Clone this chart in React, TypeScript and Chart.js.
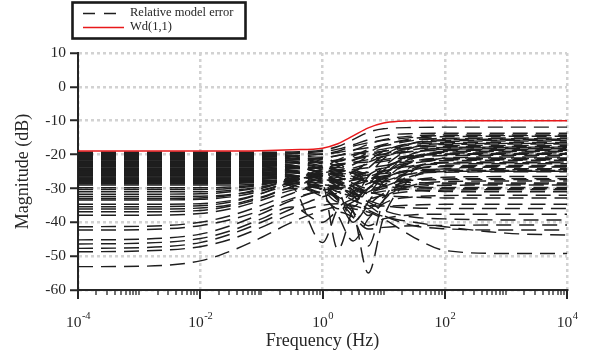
import React, { useEffect, useRef } from "react";
import { Chart, registerables } from "chart.js";

Chart.register(...registerables);

// Frequency grid (Hz) shared by every "Relative model error" curve
const freqHz = [1e-4, 1e-3, 1e-2, 0.0316, 0.1, 0.316, 1, 1.78, 3.16, 5.62, 10, 31.6, 100, 1000, 10000];

// Weighting function Wd(1,1)
const wdFreqHz = [1e-4, 1e-2, 0.1, 0.316, 1, 1.78, 3.16, 5.62, 10, 17.8, 31.6, 1e4];
const wdMagDb = [-18.95, -18.95, -18.85, -18.6, -18.1, -16.8, -14.5, -12.1, -10.7, -10.15, -10.0, -10.0];

// Relative model error curves starting in the upper low-frequency band (dB)
const upperBandCurves = [
  [-19.3, -19.3, -19.3, -19.3, -19.3, -19.2, -18.7, -17.6, -15.6, -13.4, -12.4, -12.0, -11.9, -11.9, -11.9],
  [-19.6, -19.6, -19.6, -19.6, -19.6, -19.5, -19.1, -18.4, -17.1, -15.6, -14.4, -13.8, -13.7, -13.7, -13.7],
  [-19.9, -19.9, -19.9, -19.9, -19.9, -20.1, -20.8, -20.3, -18.8, -17.0, -15.6, -14.5, -14.2, -14.2, -14.2],
  [-20.2, -20.2, -20.2, -20.2, -20.2, -20.6, -22.0, -23.2, -21.8, -19.4, -17.3, -15.2, -14.7, -14.6, -14.6],
  [-20.5, -20.5, -20.5, -20.5, -20.5, -20.4, -19.9, -19.4, -18.6, -18.0, -17.4, -15.8, -15.2, -15.1, -15.1],
  [-20.9, -20.9, -20.9, -20.9, -20.9, -21.3, -22.8, -25.0, -27.2, -24.0, -20.2, -16.6, -15.6, -15.5, -15.5],
  [-21.2, -21.2, -21.2, -21.2, -21.2, -21.3, -21.0, -20.3, -19.6, -19.1, -18.4, -16.6, -16.1, -16.0, -16.0],
  [-21.5, -21.5, -21.5, -21.5, -21.5, -21.9, -23.4, -24.6, -23.0, -20.6, -18.9, -17.0, -16.5, -16.4, -16.4],
  [-21.9, -21.9, -21.9, -21.9, -21.9, -22.4, -24.6, -28.5, -32.0, -26.5, -21.2, -17.8, -17.0, -16.9, -16.9],
  [-22.3, -22.3, -22.3, -22.3, -22.3, -22.5, -22.2, -21.6, -21.0, -20.4, -19.8, -17.9, -17.4, -17.3, -17.3],
  [-22.6, -22.6, -22.6, -22.6, -22.6, -23.1, -25.8, -27.6, -25.2, -22.3, -20.6, -18.5, -17.9, -17.8, -17.8],
  [-23.0, -23.0, -23.0, -23.0, -23.0, -23.5, -25.2, -26.2, -26.8, -27.8, -24.6, -19.6, -18.4, -18.3, -18.3],
  [-23.3, -23.3, -23.3, -23.3, -23.3, -23.7, -24.9, -23.6, -21.6, -20.6, -20.0, -19.0, -18.8, -18.7, -18.7],
  [-23.7, -23.7, -23.7, -23.7, -23.7, -24.6, -28.5, -48.0, -36.0, -29.0, -24.5, -20.5, -19.3, -19.2, -19.2],
  [-24.0, -24.0, -24.0, -24.0, -24.0, -24.2, -24.0, -23.1, -22.5, -22.2, -21.5, -20.2, -19.8, -19.7, -19.7],
  [-24.4, -24.4, -24.4, -24.4, -24.4, -25.1, -27.6, -31.0, -29.2, -26.1, -23.6, -21.0, -20.3, -20.2, -20.2],
  [-24.8, -24.8, -24.8, -24.8, -24.8, -25.4, -26.6, -28.2, -31.8, -38.0, -33.5, -24.5, -21.0, -20.7, -20.7],
  [-25.1, -25.1, -25.1, -25.1, -25.1, -25.4, -25.6, -25.1, -24.4, -23.9, -23.3, -21.8, -21.3, -21.2, -21.2],
  [-25.5, -25.5, -25.5, -25.5, -25.5, -26.1, -28.2, -30.2, -28.6, -26.6, -25.0, -22.5, -21.8, -21.7, -21.7],
  [-25.9, -25.9, -25.9, -25.9, -25.9, -26.6, -29.6, -33.5, -38.5, -47.0, -33.5, -24.0, -22.3, -22.2, -22.2],
  [-26.3, -26.3, -26.3, -26.3, -26.3, -26.5, -26.2, -25.8, -25.5, -25.3, -24.8, -23.2, -22.8, -22.7, -22.7],
  [-26.6, -26.6, -26.6, -26.6, -26.6, -27.6, -31.2, -29.2, -27.6, -27.0, -26.5, -24.2, -23.3, -23.2, -23.2],
  [-27.0, -27.0, -27.0, -27.0, -27.0, -27.8, -30.4, -32.5, -36.5, -55.0, -38.5, -26.5, -24.2, -23.7, -23.7],
  [-27.4, -27.4, -27.4, -27.4, -27.4, -28.0, -28.4, -27.5, -26.8, -26.0, -25.6, -24.6, -24.3, -24.2, -24.2],
  [-27.8, -27.8, -27.8, -27.8, -27.8, -29.5, -46.0, -36.0, -33.0, -30.0, -28.0, -25.5, -24.8, -24.7, -24.7],
  [-28.2, -28.2, -28.2, -28.2, -28.2, -28.6, -29.2, -29.8, -29.0, -27.8, -26.8, -25.6, -25.2, -25.1, -25.1],
];

// Further curves of the upper band that cross the 1-30 Hz region (dB)
const crossingCurves = [
  [-19.4, -19.4, -19.4, -19.4, -19.4, -19.6, -19.8, -19.0, -17.5, -16.5, -15.8, -14.9, -14.4, -14.4, -14.4],
  [-20.0, -20.0, -20.0, -20.0, -20.0, -20.5, -21.5, -22.0, -20.5, -18.5, -17.0, -15.6, -15.3, -15.3, -15.3],
  [-20.7, -20.7, -20.7, -20.7, -20.7, -21.0, -22.5, -24.5, -25.0, -22.0, -19.0, -16.5, -15.9, -15.8, -15.8],
  [-21.4, -21.4, -21.4, -21.4, -21.4, -21.6, -21.2, -22.5, -25.5, -27.5, -23.5, -17.8, -16.8, -16.7, -16.7],
  [-22.0, -22.0, -22.0, -22.0, -22.0, -22.2, -23.5, -21.5, -20.0, -19.5, -19.0, -17.8, -17.6, -17.6, -17.6],
  [-22.8, -22.8, -22.8, -22.8, -22.8, -23.2, -24.5, -26.5, -29.5, -31.0, -26.0, -19.5, -18.1, -18.0, -18.0],
  [-23.5, -23.5, -23.5, -23.5, -23.5, -23.8, -23.8, -22.8, -22.3, -21.5, -20.5, -19.0, -18.6, -18.5, -18.5],
  [-24.2, -24.2, -24.2, -24.2, -24.2, -24.8, -27.0, -29.5, -32.5, -30.0, -26.0, -20.8, -19.6, -19.5, -19.5],
  [-24.6, -24.6, -24.6, -24.6, -24.6, -25.0, -26.0, -25.5, -24.0, -22.8, -22.0, -20.5, -20.0, -19.9, -19.9],
  [-25.3, -25.3, -25.3, -25.3, -25.3, -26.0, -28.5, -32.5, -35.5, -30.0, -27.0, -22.0, -21.1, -21.0, -21.0],
  [-25.7, -25.7, -25.7, -25.7, -25.7, -26.2, -27.2, -27.5, -26.5, -25.0, -24.0, -22.2, -21.6, -21.5, -21.5],
  [-26.1, -26.1, -26.1, -26.1, -26.1, -27.0, -30.5, -34.0, -31.0, -28.5, -27.0, -23.5, -22.5, -22.4, -22.4],
  [-26.9, -26.9, -26.9, -26.9, -26.9, -27.2, -27.8, -28.5, -30.0, -31.5, -29.0, -24.5, -23.6, -23.5, -23.5],
  [-27.6, -27.6, -27.6, -27.6, -27.6, -28.3, -30.0, -29.0, -27.5, -26.8, -26.3, -24.8, -24.6, -24.5, -24.5],
  [-28.0, -28.0, -28.0, -28.0, -28.0, -29.0, -32.5, -36.0, -34.0, -31.0, -29.5, -26.2, -25.0, -24.9, -24.9],
  [-23.1, -23.1, -23.1, -23.1, -23.1, -23.6, -26.0, -30.0, -40.0, -34.0, -28.0, -21.0, -19.1, -19.0, -19.0],
  [-28.6, -28.6, -28.6, -28.5, -28.2, -27.0, -25.5, -26.0, -27.0, -28.0, -28.0, -27.6, -27.4, -27.4, -27.4],
  [-30.3, -30.3, -30.3, -30.0, -29.0, -27.0, -25.5, -26.5, -28.5, -30.0, -29.5, -28.8, -28.7, -28.7, -28.7],
  [-33.0, -33.0, -32.8, -32.0, -30.0, -27.5, -26.5, -28.0, -30.5, -31.5, -30.8, -30.2, -30.1, -30.1, -30.1],
];

// Relative model error curves starting in the lower low-frequency band (dB)
const lowerBandCurves = [
  [-29.0, -29.0, -29.0, -29.0, -28.6, -27.5, -26.5, -26.8, -28.5, -31.0, -30.0, -27.5, -26.7, -26.5, -26.5],
  [-29.8, -29.8, -29.8, -29.6, -28.8, -27.0, -24.5, -23.8, -24.5, -26.0, -27.0, -27.3, -27.2, -27.1, -27.1],
  [-31.0, -31.0, -31.0, -30.6, -29.5, -27.8, -26.5, -27.5, -30.5, -36.0, -32.5, -29.0, -28.0, -27.8, -27.8],
  [-31.7, -31.7, -31.6, -31.0, -29.6, -27.2, -25.0, -24.5, -25.0, -26.5, -27.5, -28.3, -28.4, -28.4, -28.4],
  [-32.4, -32.4, -32.3, -31.8, -30.5, -28.5, -29.5, -33.0, -40.0, -35.0, -31.5, -29.5, -29.1, -29.0, -29.0],
  [-33.4, -33.4, -33.2, -32.5, -30.8, -28.0, -26.0, -25.5, -26.5, -28.0, -29.0, -29.6, -29.7, -29.7, -29.7],
  [-34.7, -34.7, -34.5, -33.6, -31.5, -28.8, -27.5, -28.5, -31.0, -33.0, -32.0, -30.8, -30.5, -30.4, -30.4],
  [-35.4, -35.4, -35.1, -34.0, -31.5, -28.0, -25.5, -24.8, -25.5, -27.5, -29.0, -30.5, -30.9, -31.0, -31.0],
  [-36.1, -36.1, -35.8, -34.8, -32.5, -30.0, -32.0, -38.0, -45.5, -39.0, -34.5, -32.5, -32.1, -32.0, -32.0],
  [-36.9, -36.9, -36.5, -35.2, -32.8, -29.5, -27.5, -28.0, -29.5, -31.0, -32.0, -32.6, -32.8, -32.8, -32.8],
  [-37.9, -37.9, -37.4, -36.0, -33.5, -30.5, -29.5, -31.0, -33.5, -35.0, -35.2, -34.9, -34.7, -34.7, -34.7],
  [-41.3, -41.2, -40.0, -38.0, -35.0, -31.5, -29.0, -29.5, -31.5, -33.5, -35.0, -35.8, -35.9, -35.9, -35.9],
  [-42.3, -42.2, -41.0, -39.2, -36.5, -33.0, -31.0, -33.0, -37.0, -41.0, -39.0, -37.8, -37.6, -37.6, -37.6],
  [-45.2, -45.0, -43.5, -41.0, -37.5, -33.5, -30.5, -30.0, -31.5, -34.0, -36.5, -38.5, -39.0, -39.3, -39.3],
  [-46.4, -46.2, -44.8, -42.5, -39.0, -35.5, -40.0, -37.0, -38.5, -42.0, -41.5, -41.0, -40.9, -40.8, -40.8],
  [-47.7, -47.5, -46.0, -43.5, -40.0, -36.0, -32.5, -31.5, -32.5, -35.0, -38.0, -41.0, -41.9, -42.3, -42.3],
  [-48.7, -48.5, -47.2, -45.0, -41.5, -37.5, -35.0, -34.5, -35.0, -36.5, -38.3, -40.0, -41.3, -43.2, -43.8],
  [-53.1, -53.0, -51.4, -48.5, -44.5, -40.0, -36.5, -35.5, -36.0, -37.0, -39.0, -44.5, -48.3, -49.2, -49.2],
];

const yTicksDb = [10, 0, -10, -20, -30, -40, -50, -60];
const xLabelExponents = [-4, -2, 0, 2, 4];
const legendLabels = ["Relative model error", "Wd(1,1)"];

const FONT = "'Liberation Serif', 'Times New Roman', serif";
const TEXT = "#262626";
const ERR_DASH = [15, 8];
const RED = "#e8191b";
const GRID = "#d2d2d2";

const decorPlugin = {
  id: "decor",
  afterDraw(chart: any) {
    const ctx = chart.ctx as CanvasRenderingContext2D;
    const xs = chart.scales.x;
    const area = chart.chartArea;
    ctx.save();
    // x-axis ticks (major + minor)
    ctx.strokeStyle = TEXT;
    for (let e = -4; e <= 4; e++) {
      for (let m = 1; m <= 9; m++) {
        if (e === 4 && m > 1) break;
        const v = m * Math.pow(10, e);
        const px = Math.round(xs.getPixelForValue(v));
        const major = m === 1 && e % 2 === 0;
        ctx.lineWidth = major ? 2 : 1.3;
        ctx.beginPath();
        ctx.moveTo(px, area.bottom);
        ctx.lineTo(px, area.bottom + (major ? 9 : 5));
        ctx.stroke();
      }
    }
    // x tick labels 10^n
    ctx.fillStyle = TEXT;
    ctx.textBaseline = "alphabetic";
    ctx.textAlign = "left";
    for (const e of xLabelExponents) {
      const px = xs.getPixelForValue(Math.pow(10, e));
      ctx.font = `15.5px ${FONT}`;
      const wBase = ctx.measureText("10").width;
      ctx.font = `10.5px ${FONT}`;
      const expText = String(e);
      const wExp = ctx.measureText(expText).width;
      const start = px - (wBase + wExp) / 2;
      ctx.font = `15.5px ${FONT}`;
      ctx.fillText("10", start, area.bottom + 37);
      ctx.font = `10.5px ${FONT}`;
      ctx.fillText(expText, start + wBase + 0.5, area.bottom + 29);
    }
    // legend box
    const bx = 72.5, by = 2.5, bw = 173, bh = 36;
    ctx.fillStyle = "#ffffff";
    ctx.fillRect(bx, by, bw, bh);
    ctx.lineWidth = 2.6;
    ctx.strokeStyle = "#1a1a1a";
    ctx.strokeRect(bx, by, bw, bh);
    ctx.lineWidth = 1.4;
    ctx.strokeStyle = "#1e1e1e";
    ctx.setLineDash([12, 9]);
    ctx.beginPath();
    ctx.moveTo(83, 13.5);
    ctx.lineTo(120, 13.5);
    ctx.stroke();
    ctx.setLineDash([]);
    ctx.strokeStyle = RED;
    ctx.beginPath();
    ctx.moveTo(83, 27.5);
    ctx.lineTo(124, 27.5);
    ctx.stroke();
    ctx.fillStyle = TEXT;
    ctx.font = `12.5px ${FONT}`;
    ctx.textBaseline = "middle";
    ctx.fillText(legendLabels[0], 130, 13);
    ctx.fillText(legendLabels[1], 130, 27);
    ctx.restore();
  },
};

export default function App() {
  const canvasRef = useRef<HTMLCanvasElement | null>(null);

  useEffect(() => {
    if (!canvasRef.current) return;
    const errCurves = [...upperBandCurves, ...crossingCurves, ...lowerBandCurves];
    const datasets: any[] = [
      {
        label: legendLabels[1],
        data: wdFreqHz.map((f, i) => ({ x: f, y: wdMagDb[i] })),
        borderColor: RED,
        borderWidth: 1.5,
        pointRadius: 0,
        cubicInterpolationMode: "monotone",
        fill: false,
      },
      ...errCurves.map((c) => ({
        label: legendLabels[0],
        data: freqHz.map((f, i) => ({ x: f, y: c[i] })),
        borderColor: "#1e1e1e",
        borderWidth: 1.45,
        borderDash: ERR_DASH,
        pointRadius: 0,
        cubicInterpolationMode: "monotone",
        fill: false,
      })),
    ];

    const chart = new Chart(canvasRef.current, {
      type: "line",
      data: { datasets },
      plugins: [decorPlugin],
      options: {
        animation: false,
        responsive: false,
        events: [],
        layout: { padding: { top: 53, right: 27, left: 0, bottom: 0 } },
        plugins: { legend: { display: false }, tooltip: { enabled: false } },
        scales: {
          x: {
            type: "logarithmic",
            min: 1e-4,
            max: 1e4,
            afterBuildTicks: (s: any) => {
              s.ticks = xLabelExponents.map((e) => ({ value: Math.pow(10, e) }));
            },
            afterFit: (s: any) => {
              s.height = 69;
            },
            ticks: { display: false },
            grid: { color: GRID, lineWidth: 2.5, drawTicks: false },
            border: { display: true, color: TEXT, width: 2, dash: [3, 3] },
            title: {
              display: true,
              text: "Frequency (Hz)",
              color: TEXT,
              font: { family: FONT, size: 18 },
              padding: { top: 0, bottom: 7 },
            },
          },
          y: {
            type: "linear",
            min: -60,
            max: 10,
            afterBuildTicks: (s: any) => {
              s.ticks = yTicksDb.map((v) => ({ value: v }));
            },
            afterFit: (s: any) => {
              s.width = 78;
            },
            ticks: { color: TEXT, font: { family: FONT, size: 15.5 }, padding: 4 },
            grid: { color: GRID, lineWidth: 2.5, tickLength: 8, tickColor: TEXT, tickWidth: 2 },
            border: { display: true, color: TEXT, width: 2, dash: [3, 3] },
            title: {
              display: true,
              text: "Magnitude (dB)",
              color: TEXT,
              font: { family: FONT, size: 18 },
              padding: { top: 12, bottom: 0 },
            },
          },
        },
      } as any,
    });
    return () => chart.destroy();
  }, []);

  return (
    <div style={{ position: "absolute", left: 0, top: 0, width: 594, height: 359, background: "#fff" }}>
      <canvas ref={canvasRef} width={594} height={359} style={{ display: "block" }} />
    </div>
  );
}
